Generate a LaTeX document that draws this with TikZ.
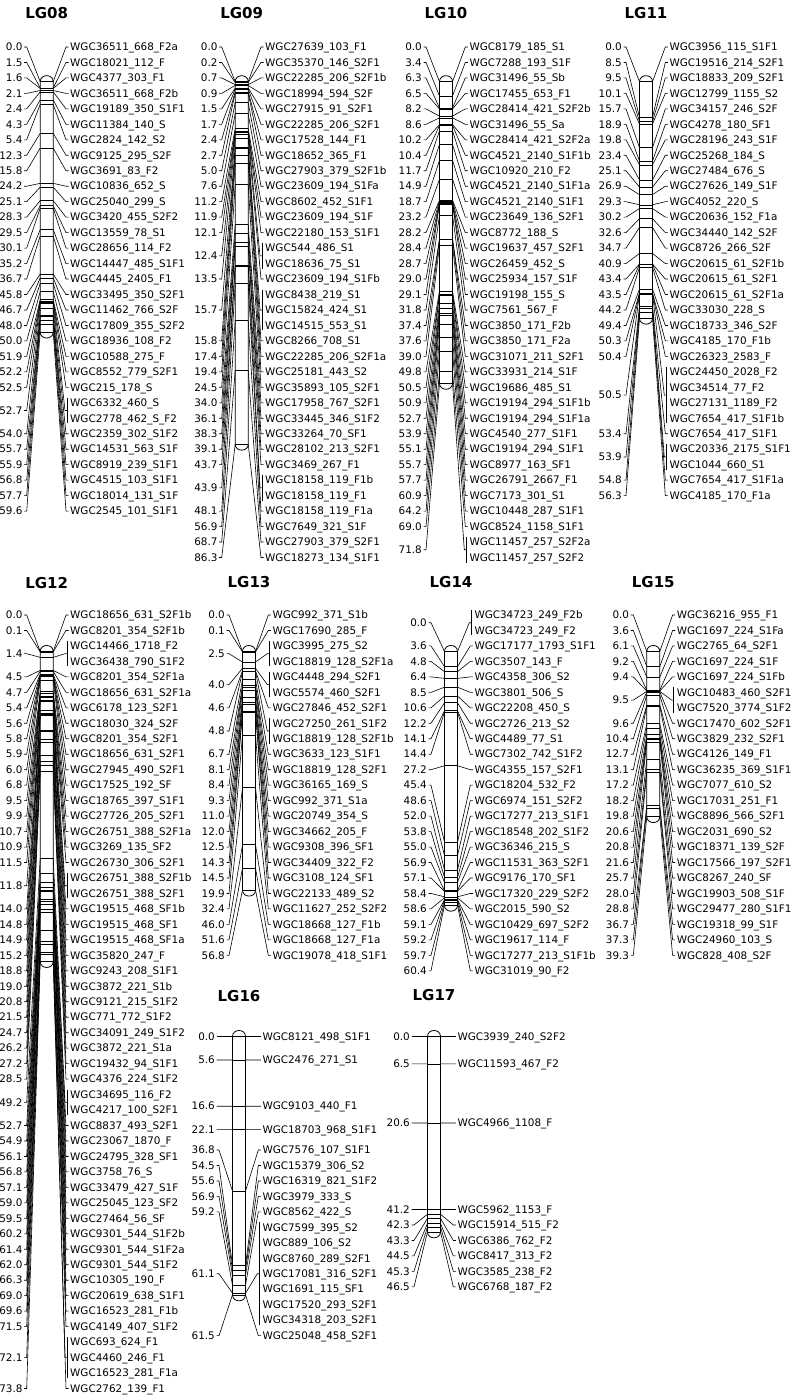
\documentclass[tikz,border=0pt]{standalone}
\usepackage{fontspec}
\setmainfont{DejaVu Sans}
\newcount\rowc
\newcount\nodec
\def\pitch{15.47}
\def\cmscale{4.2}
\tikzset{
  lgtitle/.style={font=\fontsize{15}{18}\selectfont\bfseries, inner sep=0pt},
  lgpos/.style={font=\fontsize{10.4}{12}\selectfont, inner sep=0pt, anchor=base east},
  lglab/.style={font=\fontsize{10.4}{12}\selectfont, inner sep=0pt, anchor=base west},
  lgbar/.style={draw=black, line width=0.8pt, fill=white},
  lgtick/.style={draw=black, line width=0.5pt},
  lgconn/.style={draw=black, line width=0.6pt},
}
\newcommand\LG[6]{%
  \pgfmathsetmacro\lgBC{#2}%
  \pgfmathsetmacro\lgBL{#2-6.5}%
  \pgfmathsetmacro\lgBR{#2+6.5}%
  \pgfmathsetmacro\lgXL{#2-24}%
  \pgfmathsetmacro\lgXR{#2+23.3}%
  \pgfmathsetmacro\lgRY{#3}%
  \pgfmathsetmacro\lgBT{#4}%
  \pgfmathsetmacro\lgBB{#4+#5*\cmscale}%
  \def\lgname{#1}%
  \global\rowc=0
  \node[lgtitle] (t#1) at (\lgBC,#6) {#1};
  \draw[lgbar] (\lgBL,\lgBT) -- (\lgBL,\lgBB) .. controls (\lgBL,\lgBB+8) and (\lgBR,\lgBB+8) .. (\lgBR,\lgBB) -- (\lgBR,\lgBT) .. controls (\lgBR,\lgBT-8) and (\lgBL,\lgBT-8) .. (\lgBL,\lgBT) -- cycle;
}
\newcommand\mkdraw[4]{%
  \global\advance\nodec by 1
  \edef\nn{\the\nodec}%
  \node[lgpos] (p\nn) at (\lgXL,#3+3.75) {#1};
  \node[lglab] (m\nn) at (\lgXR,#3+3.75) {#2};
  \coordinate (bl\nn) at (\lgBL,#4);
  \coordinate (br\nn) at (\lgBR,#4);
  \coordinate (cl\nn) at (\lgXL+1.5,#3);
  \coordinate (cr\nn) at (\lgXR-1.5,#3);
  \draw[lgtick] (bl\nn) -- (br\nn);
  \draw[lgconn] (cl\nn) -- ([xshift=2.5pt]cl\nn) -- (bl\nn);
  \draw[lgconn] (cr\nn) -- ([xshift=-2.5pt]cr\nn) -- (br\nn);
}
\newcommand\mk[2]{%
  \pgfmathsetmacro\lgYR{\lgRY+\the\rowc*\pitch}%
  \pgfmathsetmacro\lgYB{\lgBT+#1*\cmscale}%
  \mkdraw{#1}{#2}{\lgYR}{\lgYB}%
  \global\advance\rowc by 1
}
\newcommand\mkat[3]{%
  \pgfmathsetmacro\lgYB{\lgBT+#2*\cmscale}%
  \mkdraw{#2}{#3}{#1}{\lgYB}%
}
\newcommand\grp[2]{%
  \pgfmathsetmacro\lgYB{\lgBT+#1*\cmscale}%
  \edef\gfirst{\the\rowc}%
  \foreach \nm in {#2} {%
    \global\advance\nodec by 1
    \pgfmathsetmacro\lgYR{\lgRY+\the\rowc*\pitch}%
    \node[lglab] (m\the\nodec) at (\lgXR,\lgYR+3.75) {\nm};
    \global\advance\rowc by 1
  }%
  \pgfmathsetmacro\lgYA{\lgRY+\gfirst*\pitch}%
  \pgfmathsetmacro\lgYZ{\lgRY+(\the\rowc-1)*\pitch}%
  \pgfmathsetmacro\lgYM{(\lgYA+\lgYZ)/2}%
  \global\advance\nodec by 1
  \edef\nn{\the\nodec}%
  \node[lgpos] (p\nn) at (\lgXL,\lgYM+3.75) {#1};
  \coordinate (bl\nn) at (\lgBL,\lgYB);
  \coordinate (br\nn) at (\lgBR,\lgYB);
  \coordinate (cl\nn) at (\lgXL+1.5,\lgYM);
  \coordinate (ga\nn) at (\lgXR-3,\lgYA-5);
  \coordinate (gz\nn) at (\lgXR-3,\lgYZ+5);
  \coordinate (g\nn) at (\lgXR-3,\lgYM);
  \draw[lgtick] (bl\nn) -- (br\nn);
  \draw[lgconn] (cl\nn) -- ([xshift=2.5pt]cl\nn) -- (bl\nn);
  \draw[lgconn] (ga\nn) -- (gz\nn);
  \draw[lgconn] (g\nn) -- ([xshift=-2pt]g\nn) -- (br\nn);
}
\begin{document}
\catcode`\_=12
\begin{tikzpicture}[x=1pt,y=-1pt]
\useasboundingbox (0,0) rectangle (793,1396);
\fill[white] (0,0) rectangle (793,1396);
% ---------------- LG08
\LG{LG08}{46.7}{47}{81.7}{59.6}{13.3}
\mk{0.0}{WGC36511_668_F2a}
\mk{1.5}{WGC18021_112_F}
\mk{1.6}{WGC4377_303_F1}
\mk{2.1}{WGC36511_668_F2b}
\mk{2.4}{WGC19189_350_S1F1}
\mk{4.3}{WGC11384_140_S}
\mk{5.4}{WGC2824_142_S2}
\mk{12.3}{WGC9125_295_S2F}
\mk{15.8}{WGC3691_83_F2}
\mk{24.2}{WGC10836_652_S}
\mk{25.1}{WGC25040_299_S}
\mk{28.3}{WGC3420_455_S2F2}
\mk{29.5}{WGC13559_78_S1}
\mk{30.1}{WGC28656_114_F2}
\mk{35.2}{WGC14447_485_S1F1}
\mk{36.7}{WGC4445_2405_F1}
\mk{45.8}{WGC33495_350_S2F1}
\mk{46.7}{WGC11462_766_S2F}
\mk{48.0}{WGC17809_355_S2F2}
\mk{50.0}{WGC18936_108_F2}
\mk{51.9}{WGC10588_275_F}
\mk{52.2}{WGC8552_779_S2F1}
\mk{52.5}{WGC215_178_S}
\grp{52.7}{WGC6332_460_S,WGC2778_462_S_F2}
\mk{54.0}{WGC2359_302_S1F2}
\mk{55.7}{WGC14531_563_S1F}
\mk{55.9}{WGC8919_239_S1F1}
\mk{56.8}{WGC4515_103_S1F1}
\mk{57.7}{WGC18014_131_S1F}
\mk{59.6}{WGC2545_101_S1F1}
% ---------------- LG09
\LG{LG09}{241.7}{47}{81.7}{86.3}{13.3}
\mk{0.0}{WGC27639_103_F1}
\mk{0.2}{WGC35370_146_S2F1}
\mk{0.7}{WGC22285_206_S2F1b}
\mk{0.9}{WGC18994_594_S2F}
\mk{1.5}{WGC27915_91_S2F1}
\mk{1.7}{WGC22285_206_S2F1}
\mk{2.4}{WGC17528_144_F1}
\mk{2.7}{WGC18652_365_F1}
\mk{5.0}{WGC27903_379_S2F1b}
\mk{7.6}{WGC23609_194_S1Fa}
\mk{11.2}{WGC8602_452_S1F1}
\mk{11.9}{WGC23609_194_S1F}
\mk{12.1}{WGC22180_153_S1F1}
\grp{12.4}{WGC544_486_S1,WGC18636_75_S1}
\mk{13.5}{WGC23609_194_S1Fb}
\grp{15.7}{WGC8438_219_S1,WGC15824_424_S1,WGC14515_553_S1}
\mk{15.8}{WGC8266_708_S1}
\mk{17.4}{WGC22285_206_S2F1a}
\mk{19.4}{WGC25181_443_S2}
\mk{24.5}{WGC35893_105_S2F1}
\mk{34.0}{WGC17958_767_S2F1}
\mk{36.1}{WGC33445_346_S1F2}
\mk{38.3}{WGC33264_70_SF1}
\mk{39.1}{WGC28102_213_S2F1}
\mk{43.7}{WGC3469_267_F1}
\grp{43.9}{WGC18158_119_F1b,WGC18158_119_F1}
\mk{48.1}{WGC18158_119_F1a}
\mk{56.9}{WGC7649_321_S1F}
\mk{68.7}{WGC27903_379_S2F1}
\mk{86.3}{WGC18273_134_S1F1}
% ---------------- LG10
\LG{LG10}{446}{47}{81.7}{71.8}{13.3}
\mk{0.0}{WGC8179_185_S1}
\mk{3.4}{WGC7288_193_S1F}
\mk{6.3}{WGC31496_55_Sb}
\mk{6.5}{WGC17455_653_F1}
\mk{8.2}{WGC28414_421_S2F2b}
\mk{8.6}{WGC31496_55_Sa}
\mk{10.2}{WGC28414_421_S2F2a}
\mk{10.4}{WGC4521_2140_S1F1b}
\mk{11.7}{WGC10920_210_F2}
\mk{14.9}{WGC4521_2140_S1F1a}
\mk{18.7}{WGC4521_2140_S1F1}
\mk{23.2}{WGC23649_136_S2F1}
\mk{28.2}{WGC8772_188_S}
\mk{28.4}{WGC19637_457_S2F1}
\mk{28.7}{WGC26459_452_S}
\mk{29.0}{WGC25934_157_S1F}
\mk{29.1}{WGC19198_155_S}
\mk{31.8}{WGC7561_567_F}
\mk{37.4}{WGC3850_171_F2b}
\mk{37.6}{WGC3850_171_F2a}
\mk{39.0}{WGC31071_211_S2F1}
\mk{49.8}{WGC33931_214_S1F}
\mk{50.5}{WGC19686_485_S1}
\mk{50.9}{WGC19194_294_S1F1b}
\mk{52.7}{WGC19194_294_S1F1a}
\mk{53.9}{WGC4540_277_S1F1}
\mk{55.1}{WGC19194_294_S1F1}
\mk{55.7}{WGC8977_163_SF1}
\mk{57.7}{WGC26791_2667_F1}
\mk{60.9}{WGC7173_301_S1}
\mk{64.2}{WGC10448_287_S1F1}
\mk{69.0}{WGC8524_1158_S1F1}
\grp{71.8}{WGC11457_257_S2F2a,WGC11457_257_S2F2}
% ---------------- LG11
\LG{LG11}{646}{47}{81.7}{56.3}{13.3}
\mk{0.0}{WGC3956_115_S1F1}
\mk{8.5}{WGC19516_214_S2F1}
\mk{9.5}{WGC18833_209_S2F1}
\mk{10.1}{WGC12799_1155_S2}
\mk{15.7}{WGC34157_246_S2F}
\mk{18.9}{WGC4278_180_SF1}
\mk{19.8}{WGC28196_243_S1F}
\mk{23.4}{WGC25268_184_S}
\mk{25.1}{WGC27484_676_S}
\mk{26.9}{WGC27626_149_S1F}
\mk{29.3}{WGC4052_220_S}
\mk{30.2}{WGC20636_152_F1a}
\mk{32.6}{WGC34440_142_S2F}
\mk{34.7}{WGC8726_266_S2F}
\mk{40.9}{WGC20615_61_S2F1b}
\mk{43.4}{WGC20615_61_S2F1}
\mk{43.5}{WGC20615_61_S2F1a}
\mk{44.2}{WGC33030_228_S}
\mk{49.4}{WGC18733_346_S2F}
\mk{50.3}{WGC4185_170_F1b}
\mk{50.4}{WGC26323_2583_F}
\grp{50.5}{WGC24450_2028_F2,WGC34514_77_F2,WGC27131_1189_F2,WGC7654_417_S1F1b}
\mk{53.4}{WGC7654_417_S1F1}
\grp{53.9}{WGC20336_2175_S1F1,WGC1044_660_S1}
\mk{54.8}{WGC7654_417_S1F1a}
\mk{56.3}{WGC4185_170_F1a}
% ---------------- LG12
\LG{LG12}{46.7}{615}{651.5}{73.8}{583}
\mk{0.0}{WGC18656_631_S2F1b}
\mk{0.1}{WGC8201_354_S2F1b}
\grp{1.4}{WGC14466_1718_F2,WGC36438_790_S1F2}
\mk{4.5}{WGC8201_354_S2F1a}
\mk{4.7}{WGC18656_631_S2F1a}
\mk{5.4}{WGC6178_123_S2F1}
\mk{5.6}{WGC18030_324_S2F}
\mk{5.8}{WGC8201_354_S2F1}
\mk{5.9}{WGC18656_631_S2F1}
\mk{6.0}{WGC27945_490_S2F1}
\mk{6.8}{WGC17525_192_SF}
\mk{9.5}{WGC18765_397_S1F1}
\mk{9.9}{WGC27726_205_S2F1}
\mk{10.7}{WGC26751_388_S2F1a}
\mk{10.9}{WGC3269_135_SF2}
\mk{11.5}{WGC26730_306_S2F1}
\grp{11.8}{WGC26751_388_S2F1b,WGC26751_388_S2F1}
\mk{14.0}{WGC19515_468_SF1b}
\mk{14.8}{WGC19515_468_SF1}
\mk{14.9}{WGC19515_468_SF1a}
\mk{15.2}{WGC35820_247_F}
\mk{18.8}{WGC9243_208_S1F1}
\mk{19.0}{WGC3872_221_S1b}
\mk{20.8}{WGC9121_215_S1F2}
\mk{21.5}{WGC771_772_S1F2}
\mk{24.7}{WGC34091_249_S1F2}
\mk{26.2}{WGC3872_221_S1a}
\mk{27.2}{WGC19432_94_S1F1}
\mk{28.5}{WGC4376_224_S1F2}
\grp{49.2}{WGC34695_116_F2,WGC4217_100_S2F1}
\mk{52.7}{WGC8837_493_S2F1}
\mk{54.9}{WGC23067_1870_F}
\mk{56.1}{WGC24795_328_SF1}
\mk{56.8}{WGC3758_76_S}
\mk{57.1}{WGC33479_427_S1F}
\mk{59.0}{WGC25045_123_SF2}
\mk{59.5}{WGC27464_56_SF}
\mk{60.2}{WGC9301_544_S1F2b}
\mk{61.4}{WGC9301_544_S1F2a}
\mk{62.0}{WGC9301_544_S1F2}
\mk{66.3}{WGC10305_190_F}
\mk{69.0}{WGC20619_638_S1F1}
\mk{69.6}{WGC16523_281_F1b}
\mk{71.5}{WGC4149_407_S1F2}
\grp{72.1}{WGC693_624_F1,WGC4460_246_F1,WGC16523_281_F1a}
\mk{73.8}{WGC2762_139_F1}
% ---------------- LG13
\LG{LG13}{249}{615}{651.5}{56.8}{582}
\mk{0.0}{WGC992_371_S1b}
\mk{0.1}{WGC17690_285_F}
\grp{2.5}{WGC3995_275_S2,WGC18819_128_S2F1a}
\grp{4.0}{WGC4448_294_S2F1,WGC5574_460_S2F1}
\mk{4.6}{WGC27846_452_S2F1}
\grp{4.8}{WGC27250_261_S1F2,WGC18819_128_S2F1b}
\mk{6.7}{WGC3633_123_S1F1}
\mk{8.1}{WGC18819_128_S2F1}
\mk{8.4}{WGC36165_169_S}
\mk{9.3}{WGC992_371_S1a}
\mk{11.0}{WGC20749_354_S}
\mk{12.0}{WGC34662_205_F}
\mk{12.5}{WGC9308_396_SF1}
\mk{14.3}{WGC34409_322_F2}
\mk{14.5}{WGC3108_124_SF1}
\mk{19.9}{WGC22133_489_S2}
\mk{32.4}{WGC11627_252_S2F2}
\mk{46.0}{WGC18668_127_F1b}
\mk{51.6}{WGC18668_127_F1a}
\mk{56.8}{WGC19078_418_S1F1}
% ---------------- LG14
\LG{LG14}{451}{615}{651.5}{60.4}{582}
\grp{0.0}{WGC34723_249_F2b,WGC34723_249_F2}
\mk{3.6}{WGC17177_1793_S1F1}
\mk{4.8}{WGC3507_143_F}
\mk{6.4}{WGC4358_306_S2}
\mk{8.5}{WGC3801_506_S}
\mk{10.6}{WGC22208_450_S}
\mk{12.2}{WGC2726_213_S2}
\mk{14.1}{WGC4489_77_S1}
\mk{14.4}{WGC7302_742_S1F2}
\mk{27.2}{WGC4355_157_S2F1}
\mk{45.4}{WGC18204_532_F2}
\mk{48.6}{WGC6974_151_S2F2}
\mk{52.0}{WGC17277_213_S1F1}
\mk{53.8}{WGC18548_202_S1F2}
\mk{55.0}{WGC36346_215_S}
\mk{56.9}{WGC11531_363_S2F1}
\mk{57.1}{WGC9176_170_SF1}
\mk{58.4}{WGC17320_229_S2F2}
\mk{58.6}{WGC2015_590_S2}
\mk{59.1}{WGC10429_697_S2F2}
\mk{59.2}{WGC19617_114_F}
\mk{59.7}{WGC17277_213_S1F1b}
\mk{60.4}{WGC31019_90_F2}
% ---------------- LG15
\LG{LG15}{653.3}{615}{651.5}{39.3}{582}
\mk{0.0}{WGC36216_955_F1}
\mk{3.6}{WGC1697_224_S1Fa}
\mk{6.1}{WGC2765_64_S2F1}
\mk{9.2}{WGC1697_224_S1F}
\mk{9.4}{WGC1697_224_S1Fb}
\grp{9.5}{WGC10483_460_S2F1,WGC7520_3774_S1F2}
\mk{9.6}{WGC17470_602_S2F1}
\mk{10.4}{WGC3829_232_S2F1}
\mk{12.7}{WGC4126_149_F1}
\mk{13.1}{WGC36235_369_S1F1}
\mk{17.2}{WGC7077_610_S2}
\mk{18.2}{WGC17031_251_F1}
\mk{19.8}{WGC8896_566_S2F1}
\mk{20.6}{WGC2031_690_S2}
\mk{20.8}{WGC18371_139_S2F}
\mk{21.6}{WGC17566_197_S2F1}
\mk{25.7}{WGC8267_240_SF}
\mk{28.0}{WGC19903_508_S1F}
\mk{28.8}{WGC29477_280_S1F1}
\mk{36.7}{WGC19318_99_S1F}
\mk{37.3}{WGC24960_103_S}
\mk{39.3}{WGC828_408_S2F}
% ---------------- LG16
\LG{LG16}{239}{1150}{1036.5}{61.5}{996}
\mkat{1036.5}{0.0}{WGC8121_498_S1F1}
\mkat{1060.0}{5.6}{WGC2476_271_S1}
\mkat{1106.2}{16.6}{WGC9103_440_F1}
\mkat{1129.3}{22.1}{WGC18703_968_S1F1}
\mk{36.8}{WGC7576_107_S1F1}
\mk{54.5}{WGC15379_306_S2}
\mk{55.6}{WGC16319_821_S1F2}
\mk{56.9}{WGC3979_333_S}
\mk{59.2}{WGC8562_422_S}
\grp{61.1}{WGC7599_395_S2,WGC889_106_S2,WGC8760_289_S2F1,WGC17081_316_S2F1,WGC1691_115_SF1,WGC17520_293_S2F1,WGC34318_203_S2F1}
\mk{61.5}{WGC25048_458_S2F1}
% ---------------- LG17
\LG{LG17}{434}{1209.5}{1036.5}{46.5}{995}
\mkat{1036.5}{0.0}{WGC3939_240_S2F2}
\mkat{1063.8}{6.5}{WGC11593_467_F2}
\mkat{1123.0}{20.6}{WGC4966_1108_F}
\mk{41.2}{WGC5962_1153_F}
\mk{42.3}{WGC15914_515_F2}
\mk{43.3}{WGC6386_762_F2}
\mk{44.5}{WGC8417_313_F2}
\mk{45.3}{WGC3585_238_F2}
\mk{46.5}{WGC6768_187_F2}
\end{tikzpicture}
\end{document}
